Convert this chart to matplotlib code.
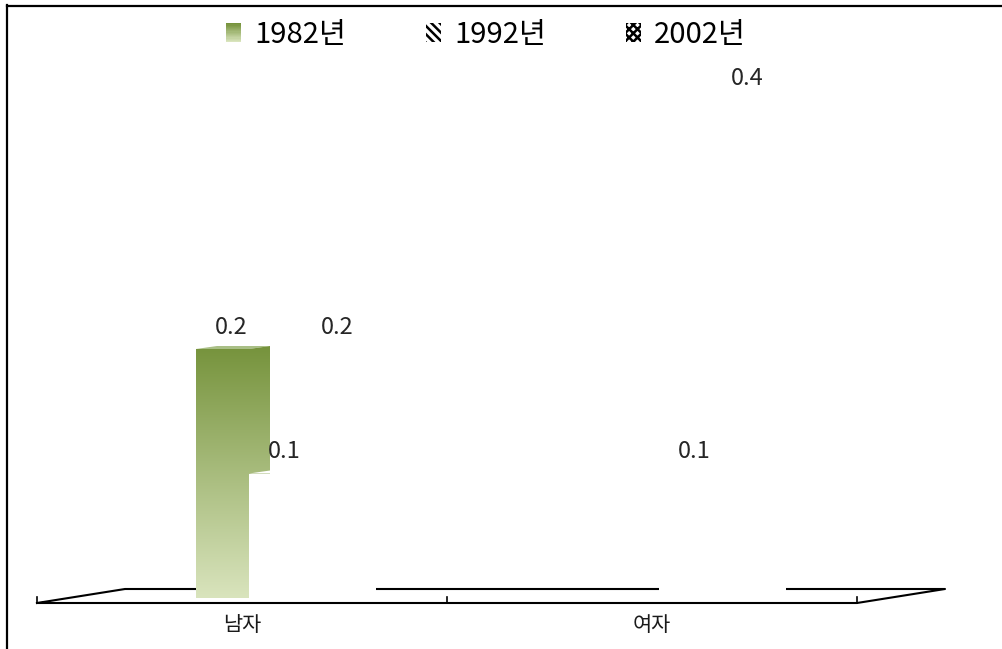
import numpy as np
import matplotlib.pyplot as plt
from matplotlib.patches import Polygon, Rectangle, Patch
from matplotlib.lines import Line2D
from matplotlib.legend_handler import HandlerBase

plt.rcParams['font.family'] = ['Noto Sans CJK KR', 'DejaVu Sans']
plt.rcParams['hatch.linewidth'] = 1.8

categories = ['남자', '여자']
series = ['1982년', '1992년', '2002년']
v1982 = [0.2, np.nan]
v1992 = [0.1, 0.1]
v2002 = [0.2, 0.4]
values = [v1982, v1992, v2002]

TOP = np.array([0x76, 0x93, 0x3c]) / 255
BOT = np.array([0xd9, 0xe4, 0xbd]) / 255

W, H = 1003, 649
fig = plt.figure(figsize=(W / 100, H / 100), dpi=100)
ax = fig.add_axes([0, 0, 1, 1])
px = 1 / 410   # data units per pixel, x
py = 1 / 1245  # data units per pixel, y
ax.axis('off')

# floor of the 3d chart
y0 = -5 * py
fdx, fdy = 88 * px, 14 * py
left, right = -0.5, len(categories) - 0.5
ax.plot([left, right, right + fdx, left + fdx, left],
        [y0, y0, y0 + fdy, y0 + fdy, y0], color='black', lw=1.5, zorder=1)
for t in np.arange(left, right + 0.01, 1):
    ax.plot([t, t], [y0, y0 + 6 * py], color='black', lw=1.2, zorder=1)

# bars
bw = 53 * px
off = -46 * px
dx, dy = 21 * px, 3 * py
x = np.arange(len(categories))
g = np.linspace(0, 1, 256)[:, None, None]
img = TOP * (1 - g) + BOT * g

for k, vals in enumerate(values):
    z = 3 + k
    xs = x + off + k * bw
    bars = ax.bar(xs, vals, width=bw, align='edge', color='white',
                  edgecolor='none', zorder=z)
    for b, v in zip(bars, vals):
        if np.isnan(v):
            continue
        x0, x1 = b.get_x(), b.get_x() + b.get_width()
        side = Polygon([(x1, 0), (x1 + dx, dy), (x1 + dx, v + dy), (x1, v)],
                       closed=True, facecolor='white', edgecolor='none', zorder=z)
        top = Polygon([(x0, v), (x1, v), (x1 + dx, v + dy), (x0 + dx, v + dy)],
                      closed=True, facecolor='white', edgecolor='none', zorder=z)
        ax.add_patch(side)
        ax.add_patch(top)
        if k == 0:
            for clip in (b, side):
                im = ax.imshow(img, extent=[x0, x1 + dx, 0, v + dy], aspect='auto',
                               zorder=z, interpolation='bilinear')
                im.set_clip_path(clip)
            top.set_facecolor('#a9bf86')
        ax.annotate(f'{v:.1f}', (x0 + bw / 2, v), xytext=(6.5, 15.8),
                    textcoords='offset points', ha='center', va='center',
                    fontsize=17, color='#262626', zorder=10)

for i, c in enumerate(categories):
    ax.text(i, y0 - 22 * py, c, ha='center', va='center', fontsize=15, color='#1a1a1a')

ax.set_xlim(-242 * px, (W - 242) * px)
ax.set_ylim(-51 * py, (H - 51) * py)


class GradHandler(HandlerBase):
    def create_artists(self, legend, orig_handle, xdescent, ydescent, width,
                       height, fontsize, trans):
        n = 16
        out = []
        for i in range(n):
            t = i / (n - 1)
            c = TOP * (1 - t) + BOT * t
            out.append(Rectangle((-xdescent, -ydescent + height * (n - 1 - i) / n),
                                 width, height / n * 1.05, facecolor=c,
                                 edgecolor='none', transform=trans))
        return out


h82 = Patch(facecolor=TOP)
h92 = Patch(facecolor='white', edgecolor='black', linewidth=0, hatch='\\\\\\\\')
h02 = Patch(facecolor='white', edgecolor='black', linewidth=0, hatch='xxxx')
fig.legend([h82, h92, h02], series, handler_map={h82: GradHandler()},
           loc='center', bbox_to_anchor=(486 / W, 1 - 35 / H), ncol=3,
           frameon=False, fontsize=21, handlelength=0.5, handleheight=0.62,
           handletextpad=0.45, columnspacing=2.75)

# outer frame (left and top edges only visible)
fig.add_artist(Line2D([7.5 / W, 7.5 / W], [0, 1 - 5 / H], color='black', lw=1.6,
                      transform=fig.transFigure))
fig.add_artist(Line2D([7 / W, 1], [1 - 6 / H, 1 - 6 / H], color='black', lw=1.6,
                      transform=fig.transFigure))

fig.savefig('out.png', dpi=100)
